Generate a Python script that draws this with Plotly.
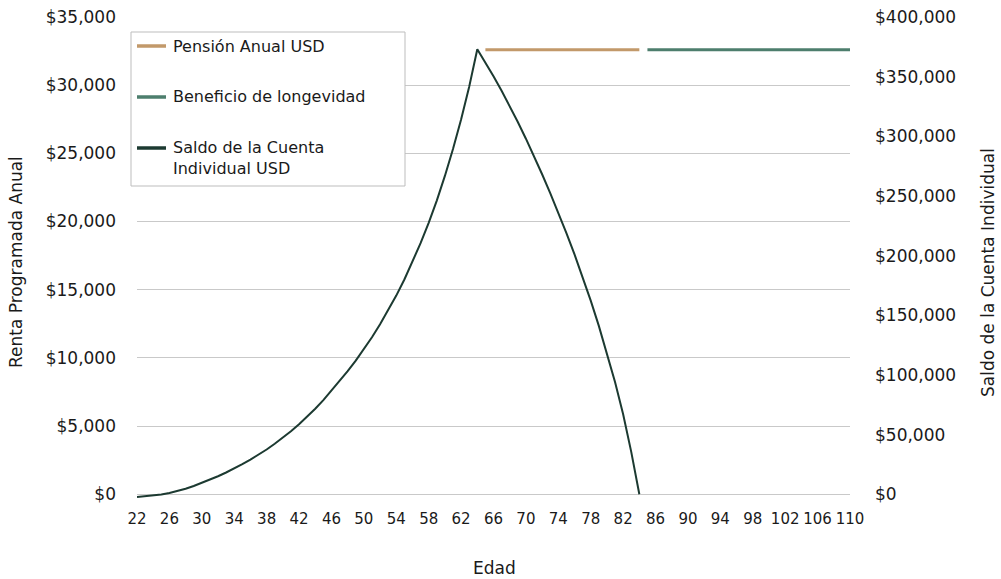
import plotly.graph_objects as go

# Balance of the individual account (USD), by age
edad_saldo = list(range(22, 85))
saldo = [
    -2300, -1800, -1100, -200, 1100, 2700, 4600, 6900, 9500, 12200,
    15100, 18200, 21550, 25150, 29000, 33100, 37500, 42250, 47350, 52800,
    58650, 64950, 71700, 78900, 86700, 94700, 103100, 112000, 121500, 131600,
    142400, 154000, 166500, 180000, 194600, 210400, 227500, 246100, 266800, 289300,
    314100, 341600, 373000,
    362000, 350400, 338200, 325400, 312000, 298000, 283400, 268200, 252400, 236000,
    218900, 201000, 182200, 162300, 141100, 118400, 94000, 67000, 35500, 0,
]

# Annual programmed pension (USD)
edad_pension = list(range(65, 85))
pension = [32600, 32600, 32600, 32600, 32600, 32600, 32600, 32600, 32600, 32600,
           32600, 32600, 32600, 32600, 32600, 32600, 32600, 32600, 32600, 32600]

# Longevity benefit (USD)
edad_longevidad = list(range(85, 111))
longevidad = [32600, 32600, 32600, 32600, 32600, 32600, 32600, 32600, 32600, 32600,
              32600, 32600, 32600, 32600, 32600, 32600, 32600, 32600, 32600, 32600,
              32600, 32600, 32600, 32600, 32600, 32600]

x_ticks = list(range(22, 111, 4))
left_ticks = list(range(0, 35001, 5000))
right_ticks = list(range(0, 400001, 50000))

C_PENSION = "#C2996A"
C_LONG = "#4D7E6D"
C_SALDO = "#1C3A31"
FONT = "DejaVu Sans"
TXT = "#1a1a1a"

fig = go.Figure()
fig.add_trace(go.Scatter(x=edad_pension, y=pension, mode="lines",
                         line=dict(color=C_PENSION, width=3),
                         name="Pensión Anual USD", showlegend=False))
fig.add_trace(go.Scatter(x=edad_longevidad, y=longevidad, mode="lines",
                         line=dict(color=C_LONG, width=3),
                         name="Beneficio de longevidad", showlegend=False))
fig.add_trace(go.Scatter(x=edad_saldo, y=saldo, mode="lines", yaxis="y2",
                         line=dict(color=C_SALDO, width=2),
                         name="Saldo de la Cuenta Individual USD", showlegend=False))

# plot area: x 137..850 px, y 17..499 px
fig.update_layout(
    width=1001, height=579,
    margin=dict(l=137, r=151, t=17, b=80, autoexpand=False),
    paper_bgcolor="white", plot_bgcolor="white",
    font=dict(family=FONT, size=16, color=TXT),
    xaxis=dict(range=[22, 110], tickvals=x_ticks, ticktext=[str(v) for v in x_ticks],
               showgrid=False, zeroline=False, showline=False, ticks="", automargin=False,
               tickfont=dict(size=15), ticklabelstandoff=9),
    yaxis=dict(range=[-350, 35000], tickvals=left_ticks,
               ticktext=["${:,}".format(v) for v in left_ticks],
               showgrid=True, gridcolor="#C9C9C9", gridwidth=1, zeroline=False, automargin=False,
               showline=False, ticks="", tickfont=dict(size=17), ticklabelstandoff=20),
    yaxis2=dict(range=[-4000, 400000], tickvals=right_ticks,
                ticktext=["${:,}".format(v) for v in right_ticks], automargin=False,
                overlaying="y", side="right", showgrid=False, zeroline=False,
                showline=False, ticks="", tickfont=dict(size=17), ticklabelstandoff=24),
)

def px_x(p):
    return (p - 137) / 713.0

def px_y(p):
    return (499 - p) / 482.0

# axis titles
fig.add_annotation(text="Renta Programada Anual", x=px_x(16), y=px_y(262), xref="paper", yref="paper",
                   textangle=-90, showarrow=False, font=dict(size=17, color=TXT),
                   xanchor="center", yanchor="middle")
fig.add_annotation(text="Saldo de la Cuenta Individual", x=px_x(988), y=px_y(273), xref="paper", yref="paper",
                   textangle=-90, showarrow=False, font=dict(size=17, color=TXT),
                   xanchor="center", yanchor="middle")
fig.add_annotation(text="Edad", x=px_x(494), y=px_y(568), xref="paper", yref="paper",
                   showarrow=False, font=dict(size=17, color=TXT),
                   xanchor="center", yanchor="middle")

# legend box
fig.add_shape(type="rect", xref="paper", yref="paper",
              x0=px_x(131), x1=px_x(405), y0=px_y(186), y1=px_y(32),
              line=dict(color="#BDBDBD", width=1), fillcolor="white", layer="above")
legend_items = [
    (C_PENSION, 46, "Pensión Anual USD", 46),
    (C_LONG, 97, "Beneficio de longevidad", 97),
    (C_SALDO, 148, "Saldo de la Cuenta<br>Individual USD", 158),
]
for color, ly, label, ty in legend_items:
    fig.add_shape(type="line", xref="paper", yref="paper",
                  x0=px_x(137), x1=px_x(166), y0=px_y(ly), y1=px_y(ly),
                  line=dict(color=color, width=3.5), layer="above")
    fig.add_annotation(text=label, x=px_x(171), y=px_y(ty), xref="paper", yref="paper",
                       showarrow=False, align="left", xanchor="left", yanchor="middle",
                       font=dict(size=16, color=TXT))

fig.write_html("out.html")
